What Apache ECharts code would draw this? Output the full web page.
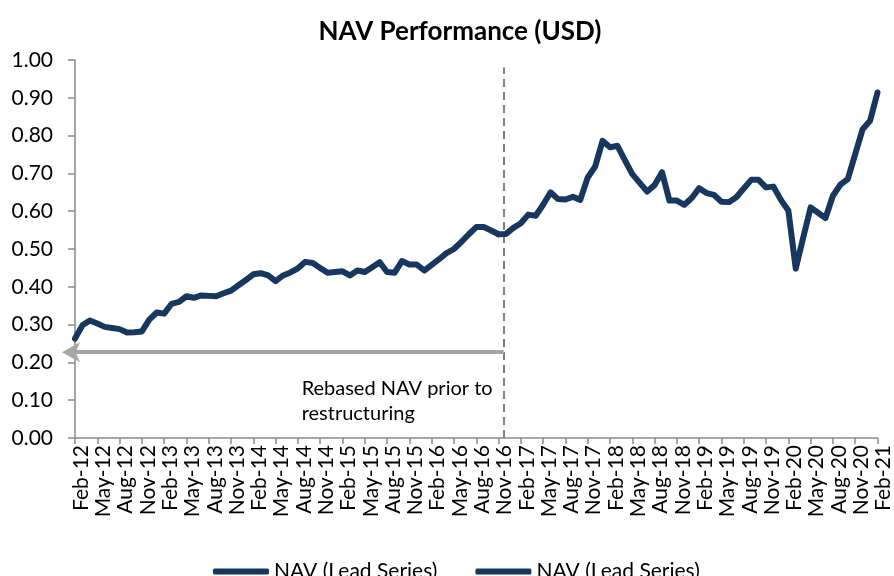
<!DOCTYPE html>
<html>
<head>
<meta charset="utf-8">
<script src="https://cdn.jsdelivr.net/npm/echarts@6/dist/echarts.min.js"></script>
<style>
html,body{margin:0;padding:0;background:#fff;}
#chart{width:894px;height:576px;}
</style>
</head>
<body>
<div id="chart"></div>
<script>
// Monthly categories Feb-12 .. Feb-21
const categories = [
'Feb-12','Mar-12','Apr-12','May-12','Jun-12','Jul-12','Aug-12','Sep-12','Oct-12','Nov-12','Dec-12','Jan-13',
'Feb-13','Mar-13','Apr-13','May-13','Jun-13','Jul-13','Aug-13','Sep-13','Oct-13','Nov-13','Dec-13','Jan-14',
'Feb-14','Mar-14','Apr-14','May-14','Jun-14','Jul-14','Aug-14','Sep-14','Oct-14','Nov-14','Dec-14','Jan-15',
'Feb-15','Mar-15','Apr-15','May-15','Jun-15','Jul-15','Aug-15','Sep-15','Oct-15','Nov-15','Dec-15','Jan-16',
'Feb-16','Mar-16','Apr-16','May-16','Jun-16','Jul-16','Aug-16','Sep-16','Oct-16','Nov-16','Dec-16','Jan-17',
'Feb-17','Mar-17','Apr-17','May-17','Jun-17','Jul-17','Aug-17','Sep-17','Oct-17','Nov-17','Dec-17','Jan-18',
'Feb-18','Mar-18','Apr-18','May-18','Jun-18','Jul-18','Aug-18','Sep-18','Oct-18','Nov-18','Dec-18','Jan-19',
'Feb-19','Mar-19','Apr-19','May-19','Jun-19','Jul-19','Aug-19','Sep-19','Oct-19','Nov-19','Dec-19','Jan-20',
'Feb-20','Mar-20','Apr-20','May-20','Jun-20','Jul-20','Aug-20','Sep-20','Oct-20','Nov-20','Dec-20','Jan-21',
'Feb-21'
];

// Rebased NAV prior to restructuring: Feb-12 .. Nov-16
const navBefore = [
0.263,0.298,0.311,0.303,0.294,0.291,0.288,0.279,0.280,0.282,0.313,0.332,
0.329,0.355,0.360,0.375,0.371,0.377,0.376,0.375,0.383,0.390,0.404,0.418,
0.433,0.436,0.430,0.415,0.430,0.438,0.449,0.466,0.463,0.450,0.437,0.439,
0.441,0.430,0.443,0.439,0.452,0.465,0.439,0.437,0.468,0.459,0.459,0.443,
0.458,0.473,0.489,0.500,0.519,0.539,0.558,0.558,0.549,0.539
];

// NAV after restructuring: Nov-16 .. Feb-21
const navAfter = [
0.539,0.540,0.556,0.568,0.591,0.588,0.617,0.650,0.632,0.631,0.638,0.630,
0.689,0.718,0.786,0.769,0.773,0.735,0.698,0.675,0.652,0.669,0.703,0.628,
0.628,0.617,0.635,0.661,0.648,0.643,0.625,0.624,0.637,0.660,0.683,0.683,
0.663,0.665,0.630,0.602,0.448,0.530,0.610,0.596,0.582,0.641,0.670,0.685,
0.751,0.817,0.839,0.914
];

const seriesNames = ['NAV (Lead Series)', 'NAV (Lead Series) '];
const annotationText = 'Rebased NAV prior to\nrestructuring';
const restructureIndex = 57.7;   // position of the dashed divider (month index)
const arrowLevel = 0.227;

const startAfter = categories.length - navAfter.length;
const before = categories.map((c, i) => i < navBefore.length ? navBefore[i] : null);
const after = categories.map((c, i) => i >= startAfter ? navAfter[i - startAfter] : null);

const FONT = 'Lato, "Liberation Sans", sans-serif';
const NAVY = '#17375E';
const AXIS = '#898989';

const chart = echarts.init(document.getElementById('chart'), null, {renderer: 'canvas'});
chart.setOption({
  animation: false,
  backgroundColor: '#ffffff',
  textStyle: {fontFamily: FONT},
  title: {
    text: 'NAV Performance (USD)',
    left: 455, top: 14, textAlign: 'center',
    textStyle: {fontFamily: FONT, fontSize: 26, fontWeight: 'bold', color: '#000'}
  },
  legend: {
    data: seriesNames,
    left: 208, top: 556,
    icon: 'roundRect',
    itemWidth: 56, itemHeight: 6, itemGap: 38,
    formatter: () => 'NAV (Lead Series)',
    textStyle: {fontFamily: FONT, fontSize: 21, color: '#000'}
  },
  grid: {left: 75, right: 9, top: 60, bottom: 138, containLabel: false},
  xAxis: [{
    type: 'category',
    data: categories,
    boundaryGap: false,
    axisLine: {lineStyle: {color: AXIS, width: 1.5}},
    axisTick: {show: true, interval: 2, length: 6, lineStyle: {color: AXIS, width: 1.5}},
    axisLabel: {interval: 2, rotate: 90, margin: 7, fontFamily: FONT, fontSize: 21, color: '#000',
                verticalAlign: 'top', lineHeight: 12},
    splitLine: {show: false}
  }, {
    type: 'value', min: 0, max: categories.length - 1, show: false
  }],
  yAxis: {
    type: 'value', min: 0, max: 1, interval: 0.1,
    axisLine: {show: true, lineStyle: {color: AXIS, width: 1.5}},
    axisTick: {show: true, length: 7, lineStyle: {color: AXIS, width: 1.5}},
    axisLabel: {margin: 22, fontFamily: FONT, fontSize: 21, color: '#000',
                formatter: v => v.toFixed(2)},
    splitLine: {show: false}
  },
  series: [{
    name: seriesNames[0], type: 'line', data: before, symbol: 'none', connectNulls: false,
    lineStyle: {color: NAVY, width: 6, cap: 'round', join: 'round'}, itemStyle: {color: NAVY}, z: 5
  }, {
    name: seriesNames[1], type: 'line', data: after, symbol: 'none', connectNulls: false,
    lineStyle: {color: NAVY, width: 6, cap: 'round', join: 'round'}, itemStyle: {color: NAVY}, z: 5
  }, {
    name: 'annotations', type: 'line', xAxisIndex: 1, data: [], symbol: 'none', clip: false,
    silent: true,
    markLine: {
      silent: true, animation: false,
      label: {show: false},
      data: [
        [{coord: [restructureIndex, 0], symbol: 'none',
          lineStyle: {color: '#808080', width: 2, type: [8, 5]}},
         {coord: [restructureIndex, 0.98], symbol: 'none'}],
        [{coord: [restructureIndex, arrowLevel], symbol: 'none',
          lineStyle: {color: '#A6A6A6', width: 4, type: 'solid'}},
         {coord: [0, arrowLevel], symbol: 'arrow', symbolSize: [15, 18], symbolOffset: [0, -13]}]
      ]
    },
    markPoint: {
      silent: true, animation: false,
      symbol: 'circle', symbolSize: 0,
      data: [{coord: [30.5, 0.098], value: annotationText}],
      label: {show: true, position: 'inside', align: 'left', verticalAlign: 'middle',
              formatter: annotationText, fontFamily: FONT, fontSize: 20, lineHeight: 25, color: '#000'}
    }
  }]
});
</script>
</body>
</html>
